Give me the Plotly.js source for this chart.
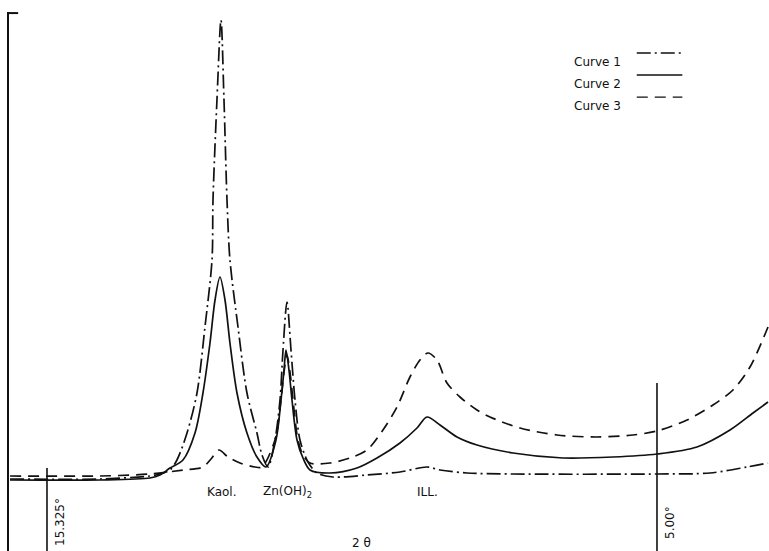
<!DOCTYPE html>
<html>
<head>
<meta charset="utf-8">
<script src="https://cdn.plot.ly/plotly-3.0.1.min.js"></script>
<style>
  html, body { margin: 0; padding: 0; background: #fff; }
  #xrd { width: 769px; height: 551px; }
</style>
</head>
<body>
<div id="xrd"></div>
<script>
// 2-theta (degrees), axis runs high -> low
var curve1Deg = [15.951, 14.428, 13.582, 13.412, 13.243, 13.125, 12.955, 12.786, 12.651, 12.532, 12.515, 12.448, 12.380, 12.329, 12.278, 12.228, 12.092, 11.940, 11.771, 11.686, 11.584, 11.466, 11.381, 11.330, 11.263, 11.195, 11.127, 11.043, 10.907, 10.755, 10.484, 9.909, 9.350, 8.893, 8.673, 8.216, 7.437, 5.000, 4.103, 3.477, 3.121];
var curve1Int = [1, 1, 4, 6, 10, 20, 47, 87, 153, 220, 280, 380, 460, 380, 280, 220, 153, 87, 47, 25, 13, 40, 80, 130, 178, 130, 80, 40, 18, 7, 3, 5, 8, 13, 10, 7, 6, 6, 7, 13, 17];

var curve2Deg = [15.951, 14.428, 13.582, 13.412, 13.243, 13.023, 12.820, 12.685, 12.566, 12.481, 12.397, 12.312, 12.228, 12.109, 11.940, 11.771, 11.618, 11.449, 11.364, 11.313, 11.280, 11.229, 11.178, 11.093, 10.992, 10.873, 10.535, 10.078, 9.739, 9.350, 9.062, 8.893, 8.673, 8.385, 8.047, 7.437, 6.591, 5.745, 5.000, 4.323, 3.764, 3.375, 3.121];
var curve2Int = [0, 0, 2, 5, 12, 20, 47, 87, 137, 180, 203, 180, 137, 87, 47, 23, 13, 40, 80, 110, 130, 110, 80, 40, 22, 10, 7, 12, 22, 37, 52, 63, 55, 43, 35, 27, 22, 23, 26, 33, 50, 67, 78];

var curve3Deg = [15.951, 14.428, 13.582, 13.023, 12.685, 12.549, 12.414, 12.261, 12.058, 11.804, 11.686, 11.466, 11.364, 11.313, 11.263, 11.212, 11.161, 11.077, 10.992, 10.873, 10.535, 10.196, 9.909, 9.638, 9.401, 9.181, 9.012, 8.876, 8.724, 8.555, 8.334, 8.047, 7.827, 7.319, 6.693, 6.016, 5.406, 5.000, 4.492, 4.052, 3.714, 3.426, 3.121];
var curve3Int = [4, 4, 6, 10, 13, 21, 30, 23, 17, 13, 13, 40, 80, 108, 125, 108, 80, 40, 25, 17, 17, 22, 30, 50, 73, 103, 120, 127, 120, 97, 83, 70, 63, 52, 45, 43, 45, 49, 60, 75, 90, 113, 153];

var curveNames = ["Curve 1", "Curve 2", "Curve 3"];
var curveDash = ["14px,4px,2px,4px", "solid", "11px,7px"];

// reference marks on the 2-theta scale
var markerDeg = [15.325, 5.00];
var markerLabels = ["15.325°", "5.00°"];
var markerTop = [12, 97];

// peak labels under the trace
var peakLabels = ["Kaol.", "Zn(OH)<sub>2</sub>", "ILL."];
var peakDeg = [12.36, 11.246, 8.876];

var xs = [curve1Deg, curve2Deg, curve3Deg];
var ys = [curve1Int, curve2Int, curve3Int];

var data = [];
for (var i = 0; i < 3; i++) {
  data.push({
    name: curveNames[i],
    x: xs[i],
    y: ys[i],
    mode: "lines",
    line: { color: "#111", width: 1.7, dash: curveDash[i], shape: "spline", smoothing: 0.85 },
    hoverinfo: "skip",
  });
}

var font = { family: "DejaVu Sans, Arial, sans-serif", size: 12, color: "#111" };
var shapes = [];
var annotations = [];

// short tick at top of the intensity axis
shapes.push({
  type: "line", xref: "paper", yref: "paper",
  x0: 0, x1: 0.012, y0: 0.998, y1: 0.998,
  line: { color: "#111", width: 2 },
});

for (var m = 0; m < markerDeg.length; m++) {
  shapes.push({
    type: "line", xref: "x", yref: "y",
    x0: markerDeg[m], x1: markerDeg[m], y0: markerTop[m], y1: -71,
    line: { color: "#111", width: 1.6 },
  });
  annotations.push({
    x: markerDeg[m], y: -42, xref: "x", yref: "y",
    text: markerLabels[m], textangle: -90, showarrow: false,
    xshift: 13, font: font,
  });
}

for (var p = 0; p < peakLabels.length; p++) {
  annotations.push({
    x: peakDeg[p], y: -12, xref: "x", yref: "y",
    text: peakLabels[p], showarrow: false, font: font,
  });
}

annotations.push({
  x: 10.0, y: -63, xref: "x", yref: "y",
  text: "2 θ", showarrow: false, font: font,
});

// legend drawn by hand: text first, line sample to the right
var legendY = [0.924, 0.883, 0.842];
for (var l = 0; l < curveNames.length; l++) {
  annotations.push({
    x: 0.808, y: legendY[l], xref: "paper", yref: "paper",
    xanchor: "right", text: curveNames[l], showarrow: false, font: font,
  });
  shapes.push({
    type: "line", xref: "paper", yref: "paper",
    x0: 0.826, x1: 0.886, y0: legendY[l], y1: legendY[l],
    line: { color: "#111", width: 1.4, dash: curveDash[l] },
  });
}

var layout = {
  width: 769,
  height: 551,
  margin: { l: 9, r: 0, t: 12, b: 0 },
  paper_bgcolor: "#fff",
  plot_bgcolor: "#fff",
  showlegend: false,
  xaxis: {
    range: [15.968, 3.104],
    showgrid: false, zeroline: false, showline: false,
    showticklabels: false, ticks: "",
  },
  yaxis: {
    range: [-71, 468],
    showgrid: false, zeroline: false,
    showline: true, linecolor: "#111", linewidth: 2,
    showticklabels: false, ticks: "",
  },
  shapes: shapes,
  annotations: annotations,
};

Plotly.newPlot("xrd", data, layout, { staticPlot: true });
</script>
</body>
</html>
